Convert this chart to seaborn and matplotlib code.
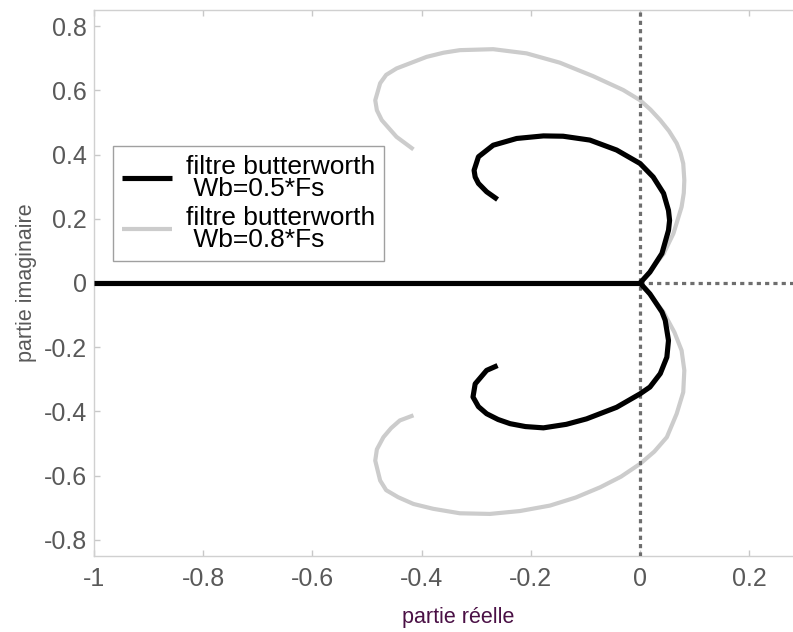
import matplotlib
matplotlib.use("Agg")
import matplotlib.pyplot as plt
import seaborn as sns
import pandas as pd

# ---- data ----
axis_x = [-1.0, 0.0]
axis_y = [0.0, 0.0]

# filtre Wb=0.5*Fs
b_up_x = [0.0, 0.018, 0.040, 0.052, 0.054, 0.052, 0.043, 0.024, 0.0, -0.043, -0.092, -0.141,
          -0.177, -0.226, -0.269, -0.296, -0.304, -0.302, -0.296, -0.281, -0.261]
b_up_y = [0.0, 0.034, 0.092, 0.164, 0.195, 0.226, 0.279, 0.330, 0.372, 0.414, 0.445, 0.457,
          0.458, 0.450, 0.429, 0.393, 0.351, 0.330, 0.310, 0.284, 0.260]
b_lo_x = [0.0, 0.018, 0.040, 0.046, 0.052, 0.049, 0.037, 0.018, 0.0, -0.043, -0.098, -0.135,
          -0.177, -0.210, -0.238, -0.260, -0.281, -0.296, -0.306, -0.302, -0.281, -0.261]
b_lo_y = [0.0, -0.034, -0.090, -0.116, -0.179, -0.231, -0.282, -0.324, -0.345, -0.387, -0.423,
          -0.440, -0.451, -0.447, -0.438, -0.425, -0.407, -0.385, -0.355, -0.314, -0.272, -0.257]

# filtre Wb=0.8*Fs
g_up_x = [0.0, 0.020, 0.043, 0.061, 0.076, 0.080, 0.081, 0.079, 0.074, 0.067, 0.053, 0.037,
          0.019, 0.0, -0.031, -0.086, -0.147, -0.208, -0.269, -0.330, -0.360, -0.391, -0.446,
          -0.465, -0.476, -0.485, -0.482, -0.473, -0.446, -0.415]
g_up_y = [0.0, 0.040, 0.091, 0.154, 0.237, 0.280, 0.320, 0.372, 0.405, 0.435, 0.473, 0.507,
          0.540, 0.569, 0.601, 0.644, 0.686, 0.715, 0.728, 0.725, 0.717, 0.704, 0.668,
          0.648, 0.622, 0.569, 0.538, 0.507, 0.455, 0.416]
g_lo_x = [0.0, 0.020, 0.043, 0.063, 0.076, 0.081, 0.079, 0.067, 0.049, 0.026, 0.0, -0.035,
          -0.073, -0.118, -0.165, -0.220, -0.275, -0.330, -0.379, -0.415, -0.443, -0.465,
          -0.476, -0.485, -0.482, -0.470, -0.456, -0.440, -0.415]
g_lo_y = [0.0, -0.040, -0.091, -0.154, -0.210, -0.272, -0.340, -0.407, -0.480, -0.525, -0.563,
          -0.603, -0.636, -0.668, -0.693, -0.710, -0.719, -0.717, -0.703, -0.688, -0.667,
          -0.645, -0.615, -0.553, -0.518, -0.480, -0.452, -0.428, -0.412]

labels = ["filtre butterworth\n Wb=0.5*Fs", "filtre butterworth\n Wb=0.8*Fs"]
xticks = [-1, -0.8, -0.6, -0.4, -0.2, 0, 0.2]
yticks = [-0.8, -0.6, -0.4, -0.2, 0, 0.2, 0.4, 0.6, 0.8]


def frame(segments):
    parts = []
    for i, (xs, ys) in enumerate(segments):
        parts.append(pd.DataFrame({"x": xs, "y": ys, "seg": i}))
    return pd.concat(parts, ignore_index=True)


df_b = frame([(axis_x, axis_y), (b_up_x, b_up_y), (b_lo_x, b_lo_y)])
df_g = frame([(axis_x, axis_y), (g_up_x, g_up_y), (g_lo_x, g_lo_y)])

sns.set_theme(style="white")
plt.rcParams["font.family"] = ["Liberation Sans", "DejaVu Sans"]

fig = plt.figure(figsize=(7.93, 6.32), dpi=100)
ax = fig.add_axes([94 / 793, 76 / 632, 699 / 793, 546 / 632])

sns.lineplot(data=df_b, x="x", y="y", units="seg", estimator=None, sort=False,
             color="black", linewidth=3.7, ax=ax, label=labels[0], zorder=4,
             solid_capstyle="butt", solid_joinstyle="round")
sns.lineplot(data=df_g, x="x", y="y", units="seg", estimator=None, sort=False,
             color="#cccccc", linewidth=3.0, ax=ax, label=labels[1], zorder=2,
             solid_capstyle="butt", solid_joinstyle="round")

dot = dict(color="#6e6e6e", linewidth=2.3, linestyle=(0, (1.3, 1.3)), zorder=3)
ax.axvline(0, **dot)
ax.hlines(0, 0, 0.28, **dot)

ax.set_xlim(-1, 0.28)
ax.set_ylim(-0.85, 0.85)
ax.set_xticks(xticks)
ax.set_xticklabels([f"{t:g}" for t in xticks])
ax.set_yticks(yticks)
ax.set_yticklabels([f"{t:g}" for t in yticks])

for side in ["top", "bottom", "left"]:
    ax.spines[side].set_visible(True)
    ax.spines[side].set_color("#d0d0d0")
    ax.spines[side].set_linewidth(1.0)
ax.spines["right"].set_visible(False)

ax.tick_params(axis="both", which="both", direction="in", length=4, width=1,
               color="#c8c8c8", labelsize=18, labelcolor="#595959")
ax.tick_params(axis="x", top=True, bottom=True, pad=8)
ax.tick_params(axis="y", left=True, right=False, pad=5)

ax.set_xlabel("partie réelle", fontsize=15.5, color="#4a1045")
ax.set_ylabel("partie imaginaire", fontsize=15.5, color="#595959")
ax.xaxis.set_label_coords((458 - 94) / 699, -(607 - 556) / 546)
ax.yaxis.set_label_coords(-(94 - 37) / 699, 0.5)

handles, lbls = ax.get_legend_handles_labels()
seen = {}
for h, l in zip(handles, lbls):
    if l not in seen:
        seen[l] = h
leg = ax.legend([seen[l] for l in labels], labels,
                loc="upper left", bbox_to_anchor=(0.0272, 0.7509), borderaxespad=0,
                fontsize=19, frameon=True, fancybox=False, framealpha=1,
                edgecolor="#a0a0a0", handlelength=1.9, handletextpad=0.5,
                labelspacing=0.2, borderpad=0.35)
leg.get_frame().set_linewidth(1.0)
for t in leg.get_texts():
    t.set_linespacing(0.88)
    t.set_color("black")

fig.savefig("out.png", dpi=100)
